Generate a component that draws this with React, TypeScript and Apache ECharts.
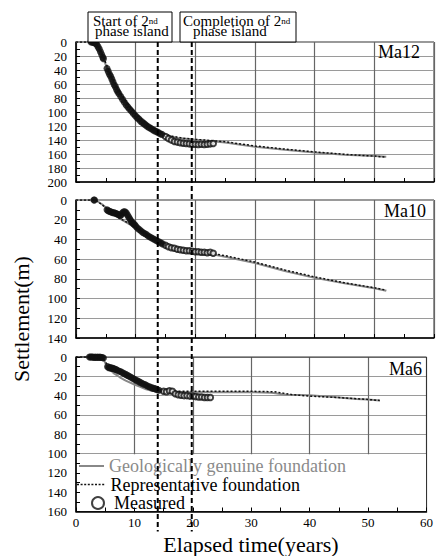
import React, { useEffect, useRef } from "react";
import * as echarts from "echarts";

const FONT = "'Liberation Serif', 'Times New Roman', serif";

// ---------- data ----------
const PANEL_NAMES = ["Ma12", "Ma10", "Ma6"];
const Y_MAX = [200, 140, 160];
const X_MAX = 60;
const X_STEP = 10;
const Y_STEP = 20;
const EVENT_YEARS = [13.7, 19.4];
const LEGEND_FLOOR = 100; // panel 3: values below this are the legend area

const NAME_GENUINE = "Geologically genuine foundation";
const NAME_REPR = "Representative foundation";
const NAME_MEAS = "Measured";

// Ma12
const ma12Genuine = [[0,0],[2.5,0],[3,1],[3.5,4],[4,11],[4.5,21],[5,33],[5.5,43],[6,52],[7,68],[8,81],[9,92],[10,101],[11,109],[12,116],[13,122],[14,128],[15,132],[16,135],[17,137],[18,138],[20,139.5],[22,141],[25,143.5],[30,149.5],[35,154],[40,158],[45,161],[50,163],[52,164]];
const ma12Repr = [[0,0],[2.5,0],[3,1],[3.5,3.5],[4,10],[4.5,19],[5,30],[5.5,40],[6,50],[7,66],[8,80],[9,92],[10,102],[11,110],[12,117],[13,123],[14,128],[15,132],[16,134.5],[18,137.5],[20,139],[25,142.5],[30,148.5],[35,153],[40,157],[45,160.5],[50,163],[52,164.5]];
const ma12Filled = [[2.5,0],[2.7,0],[2.9,0.5],[3.1,1],[3.3,2],[3.5,4],[3.7,7],[3.9,10],[4.1,14],[4.3,18],[4.5,22],[4.6,24],[5.2,38],[5.4,42],[5.6,46],[5.8,49],[6.0,53],[6.2,57],[6.4,61],[6.6,64],[6.8,68],[7.0,71],[7.2,74],[7.5,78],[7.8,82],[8.1,86],[8.4,90],[8.7,93],[9.0,96],[9.3,99],[9.6,102],[9.9,105],[10.2,108],[10.5,110],[10.8,113],[11.1,115],[11.4,117],[11.7,119],[12.0,121],[12.3,122.5],[12.6,124],[12.9,125.5],[13.2,127],[13.5,128],[13.8,129.5],[14.1,131],[14.4,132]];
const ma12Open = [[15.0,135],[15.5,138],[16.0,140],[16.5,142],[17.0,143],[17.5,144],[18.0,144.5],[18.5,145],[19.0,145.5],[19.5,146],[20.0,146],[20.5,146.5],[21.0,146],[21.5,146.5],[22.0,146],[22.5,145.5],[23.0,145]];

// Ma10
const ma10Genuine = [[0,0],[3,0],[3.5,1],[4.5,5],[5.5,10],[6.5,15],[7.5,19.5],[8.5,23],[9.5,26.5],[10.5,30],[11.5,33.5],[12.5,37],[13.5,41],[14.5,44],[15.5,46.5],[16.5,48.5],[18,50.5],[20,52.5],[22,54],[25,57.5],[30,64],[35,72],[40,79],[45,84.5],[50,89.5],[52,92]];
const ma10Repr = [[0,0],[3,0],[3.5,1],[4.5,5.5],[5.5,10.5],[6.5,15],[7.5,19],[8.5,22.5],[9.5,26],[10.5,29.5],[11.5,33],[12.5,36.5],[13.5,40.5],[14.5,43.5],[15.5,46],[16.5,48],[18,50],[20,52],[22,53.5],[25,56.5],[30,63],[35,71],[40,78],[45,84],[50,89],[52,91.5]];
const ma10Filled = [[3.0,0],[3.1,0],[5.2,10],[5.4,11],[5.6,11.5],[5.8,12],[6.0,12.5],[6.2,13],[6.4,13],[6.6,13.5],[6.8,14],[7.0,14.5],[7.2,15],[7.4,16],[7.6,15],[7.8,13],[8.0,12],[8.2,12],[8.4,13],[8.6,15],[8.8,17],[9.0,19],[9.2,21],[9.4,22.5],[9.6,24],[9.8,25],[10.0,26.5],[10.3,28.5],[10.6,30],[10.9,31.5],[11.2,33],[11.5,34],[11.8,35],[12.1,36.5],[12.4,37.5],[12.7,38.5],[13.0,39.5],[13.3,40.5],[13.6,41.5],[13.9,42.5],[14.2,43.5],[14.5,44.5]];
const ma10Open = [[15.0,46],[15.5,47.5],[16.0,48.5],[16.5,49],[17.0,50],[17.5,50.5],[18.0,51],[18.5,51.5],[19.0,51.5],[19.5,52],[20.0,52.5],[20.5,52.5],[21.0,53],[21.5,53],[22.0,53.5],[22.5,53],[23.0,54]];

// Ma6
const ma6Genuine = [[0,0],[2.5,0],[4,0.5],[4.7,2],[5,6],[5.3,10.5],[6,14],[6.5,17],[7.5,21],[8.5,24.5],[10,28.5],[11,31],[12,33.5],[13,35],[14,36],[16,36.5],[20,36.5],[25,36.5],[30,36.5],[33.5,37],[36,39],[40,39.6],[44,41.5],[48,43.5],[50,44],[52,45]];
const ma6Repr = [[0,0],[2.5,0],[4.5,1],[5,5],[5.5,9],[6.5,12.5],[8,16.5],[9.5,21],[11,26],[12.5,30.5],[14,33.5],[15.5,35],[17,35.5],[20,35.5],[25,35.5],[30,35.5],[34,36],[37,39],[40,40.5],[45,42],[50,44],[52,45]];
const ma6Filled = [[2.3,0],[2.5,0],[2.7,0],[2.9,0],[3.1,0.5],[3.3,0],[3.5,0.5],[3.7,0],[3.9,0.5],[4.1,0],[4.3,0.5],[4.5,0.5],[4.7,1],[5.4,10],[5.6,11],[5.8,11],[6.0,11.5],[6.2,11.5],[6.4,12],[6.6,12.5],[6.8,13],[7.0,13.5],[7.3,14.5],[7.6,15],[7.9,16],[8.2,17],[8.5,18],[8.8,19],[9.1,20],[9.4,21],[9.7,22],[10.0,23],[10.3,24],[10.6,25],[10.9,26],[11.2,27],[11.5,28],[11.8,28.5],[12.1,29.5],[12.4,30.5],[12.7,31],[13.0,32],[13.3,32.5],[13.6,33],[13.9,34],[14.2,34.5]];
const ma6Open = [[15.0,35.5],[15.5,36],[16.0,35],[16.5,35.5],[17.0,38],[17.5,39],[18.0,39.5],[18.5,40],[19.0,40],[19.5,40.5],[20.0,40.5],[20.5,41],[21.0,41.5],[21.5,41.5],[22.0,42],[22.5,42],[23.0,42]];

const PANELS = [
  { genuine: ma12Genuine, repr: ma12Repr, filled: ma12Filled, open: ma12Open },
  { genuine: ma10Genuine, repr: ma10Repr, filled: ma10Filled, open: ma10Open },
  { genuine: ma6Genuine, repr: ma6Repr, filled: ma6Filled, open: ma6Open },
];

// ---------- layout ----------
const GRID_LEFT = 76;
const GRID_RIGHT = 2;
const GRID_BOXES = [
  { top: 42, height: 140 },
  { top: 200, height: 138 },
  { top: 357, height: 154.5 },
];
const H_GRID = "#9a9a9a";
const V_GRID = "#666";

function dottedIcon(width: number, dash: number, gap: number, h: number) {
  let d = "";
  for (let x = 0; x + dash <= width + 0.01; x += dash + gap) {
    d += `M${x},0h${dash}v${h}h-${dash}Z`;
  }
  return "path://" + d;
}

function buildOption() {
  const last = PANELS.length - 1;
  const grid = GRID_BOXES.map((g, i) => ({
    left: GRID_LEFT,
    right: GRID_RIGHT,
    top: g.top,
    height: g.height,
    show: true,
    borderColor: "#333",
    borderWidth: 1,
    backgroundColor: "transparent",
    z: i === last ? 3 : 0,
  }));

  const xAxis: any[] = PANELS.map((_, i) => ({
    type: "value",
    gridIndex: i,
    min: 0,
    max: X_MAX,
    interval: X_STEP,
    position: "bottom",
    z: i === last ? 3 : 0,
    axisLine: { show: true, onZero: false, lineStyle: { color: "#000", width: 1.5 } },
    axisTick: { show: true, inside: true, length: 4, lineStyle: { color: "#000" } },
    minorTick: { show: true, splitNumber: 2, length: 4, lineStyle: { color: "#000" } },
    axisLabel: { show: i === last, fontFamily: FONT, fontSize: 13, color: "#000", margin: 4 },
    splitLine: { show: i !== last, lineStyle: { color: V_GRID, width: 1.2 } },
  }));
  const yAxis: any[] = PANELS.map((_, i) => ({
    type: "value",
    gridIndex: i,
    min: 0,
    max: Y_MAX[i],
    interval: Y_STEP,
    inverse: true,
    position: "left",
    z: i === last ? 3 : 0,
    axisLine: { show: true, onZero: false, lineStyle: { color: "#000", width: 1.5 } },
    axisTick: { show: true, inside: true, length: 4, lineStyle: { color: "#000" } },
    minorTick: { show: true, splitNumber: 2, length: 4, lineStyle: { color: "#000" } },
    axisLabel: { fontFamily: FONT, fontSize: 13, color: "#000", margin: 9 },
    splitLine: { show: i !== last, lineStyle: { color: H_GRID, width: 1.2 } },
  }));
  // gridline-only axes for last panel (hidden under the white legend area)
  xAxis.push({
    type: "value", gridIndex: last, min: 0, max: X_MAX, interval: X_STEP, position: "top", z: 0,
    axisLine: { show: false }, axisTick: { show: false }, axisLabel: { show: false },
    splitLine: { show: true, lineStyle: { color: V_GRID, width: 1.2 } },
  });
  yAxis.push({
    type: "value", gridIndex: last, min: 0, max: Y_MAX[last], interval: Y_STEP, inverse: true, position: "right", z: 0,
    axisLine: { show: false }, axisTick: { show: false }, axisLabel: { show: false },
    splitLine: { show: true, lineStyle: { color: H_GRID, width: 1.2 } },
  });

  const series: any[] = [];
  PANELS.forEach((p, i) => {
    const genuine: any = {
      name: NAME_GENUINE, type: "line", xAxisIndex: i, yAxisIndex: i, data: p.genuine,
      symbol: "none", lineStyle: { color: "#888", width: 2 }, itemStyle: { color: "#888" }, z: 2,
    };
    if (i === last) {
      genuine.markArea = {
        silent: true,
        itemStyle: { color: "#fff" },
        data: [[{ yAxis: LEGEND_FLOOR + 0.8 }, { yAxis: Y_MAX[last] }]],
      };
    }
    series.push(genuine);
    series.push({
      name: NAME_REPR, type: "line", xAxisIndex: i, yAxisIndex: i, data: p.repr,
      symbol: "none", lineStyle: { color: "#111", width: 1.5, type: [2, 2] }, itemStyle: { color: "#111" }, z: 3,
    });
    series.push({
      name: NAME_MEAS, type: "scatter", xAxisIndex: i, yAxisIndex: i, data: p.open,
      symbol: "emptyCircle", symbolSize: 5.5, itemStyle: { color: "#111", borderWidth: 0.9 }, z: 4,
    });
    series.push({
      name: NAME_MEAS, type: "scatter", xAxisIndex: i, yAxisIndex: i, data: p.filled,
      symbol: "circle", symbolSize: 7, itemStyle: { color: "#111" }, z: 4,
    });
  });

  const legendBase = { orient: "vertical", padding: 0, selectedMode: false };
  const txt = (color: string, extra: any = {}) => ({
    fontFamily: FONT, fontSize: 18, lineHeight: 18, color, ...extra,
  });
  const legend = [
    { ...legendBase,
      data: [{ name: NAME_GENUINE, icon: "path://M0,0H25V2H0Z", itemStyle: { color: "#888" } }],
      left: 79, top: 457, itemWidth: 25, itemHeight: 2,
      textStyle: txt("#8a8a8a") },
    { ...legendBase,
      data: [{ name: NAME_REPR, icon: dottedIcon(30, 2, 1.6, 1.6), itemStyle: { color: "#111" } }],
      left: 77, top: 475.5, itemWidth: 30, itemHeight: 1.6,
      textStyle: txt("#000") },
    { ...legendBase,
      data: [{ name: NAME_MEAS, icon: "emptyCircle", itemStyle: { color: "#111", borderWidth: 1.3 } }],
      left: 91, top: 494, itemWidth: 12, itemHeight: 12,
      textStyle: txt("#000", { padding: [0, 0, 0, 5] }) },
  ];

  return {
    animation: false,
    backgroundColor: "#fff",
    grid,
    xAxis,
    yAxis,
    series,
    legend,
  };
}

const HEADERS = [
  { box: { x: 88, y: 12, width: 84, height: 30 }, l1: "Start of 2", l1x: 93, l2x: 95 },
  { box: { x: 180, y: 12, width: 116, height: 30 }, l1: "Completion of 2", l1x: 183, l2x: 193 },
];
const PANEL_LABEL_POS = [
  { x: 420, y: 52 },
  { x: 426, y: 211 },
  { x: 422, y: 369 },
];

export default function App() {
  const ref = useRef<HTMLDivElement>(null);
  useEffect(() => {
    if (!ref.current) return;
    const chart = echarts.init(ref.current, null, { renderer: "svg" });
    chart.setOption(buildOption() as any);

    const last = PANELS.length - 1;
    const top = chart.convertToPixel({ yAxisIndex: 0 } as any, 0) as number;
    const bottom = (chart.convertToPixel({ yAxisIndex: last } as any, Y_MAX[last]) as number) + 20;
    const xs = EVENT_YEARS.map((t) => chart.convertToPixel({ xAxisIndex: 0 } as any, t) as number);

    const graphics: any[] = [];
    xs.forEach((x) => {
      graphics.push({
        type: "line", z: 10, silent: true,
        shape: { x1: x, y1: top, x2: x, y2: bottom },
        style: { stroke: "#000", lineWidth: 2, lineDash: [5, 3] },
      });
    });
    HEADERS.forEach((h) => {
      graphics.push({
        type: "rect", z: 11, shape: h.box,
        style: { fill: "#fff", stroke: "#000", lineWidth: 1 },
      });
      graphics.push({
        type: "text", z: 12, x: h.l1x, y: 21,
        style: {
          text: `{a|${h.l1}}{s|nd}`,
          verticalAlign: "middle",
          align: "left",
          rich: {
            a: { fontSize: 15, lineHeight: 10, fontFamily: FONT, fill: "#000" },
            s: { fontSize: 9, lineHeight: 4, fontFamily: FONT, fill: "#000", verticalAlign: "top" },
          },
        },
      });
      graphics.push({
        type: "text", z: 12, x: h.l2x, y: 31,
        style: { text: "phase island", fontSize: 15, lineHeight: 10, fontFamily: FONT, fill: "#000", verticalAlign: "middle", align: "left" },
      });
    });
    PANEL_NAMES.forEach((n, i) => {
      graphics.push({
        type: "text", z: 12, x: PANEL_LABEL_POS[i].x, y: PANEL_LABEL_POS[i].y,
        style: { text: n, fontSize: 18, fontFamily: FONT, fill: "#000", align: "right", verticalAlign: "middle" },
      });
    });
    graphics.push({
      type: "text", z: 12, x: 21, y: 319, rotation: Math.PI / 2,
      style: { text: "Settlement(m)", fontSize: 22, fontFamily: FONT, fill: "#000", align: "center", verticalAlign: "middle" },
    });
    graphics.push({
      type: "text", z: 12, x: 251, y: 544,
      style: { text: "Elapsed time(years)", fontSize: 22, fontFamily: FONT, fill: "#000", align: "center", verticalAlign: "middle" },
    });
    chart.setOption({ graphic: graphics } as any);

    return () => chart.dispose();
  }, []);
  return (
    <div
      ref={ref}
      style={{ position: "absolute", left: 0, top: 0, width: 436, height: 556, background: "#fff" }}
    />
  );
}
